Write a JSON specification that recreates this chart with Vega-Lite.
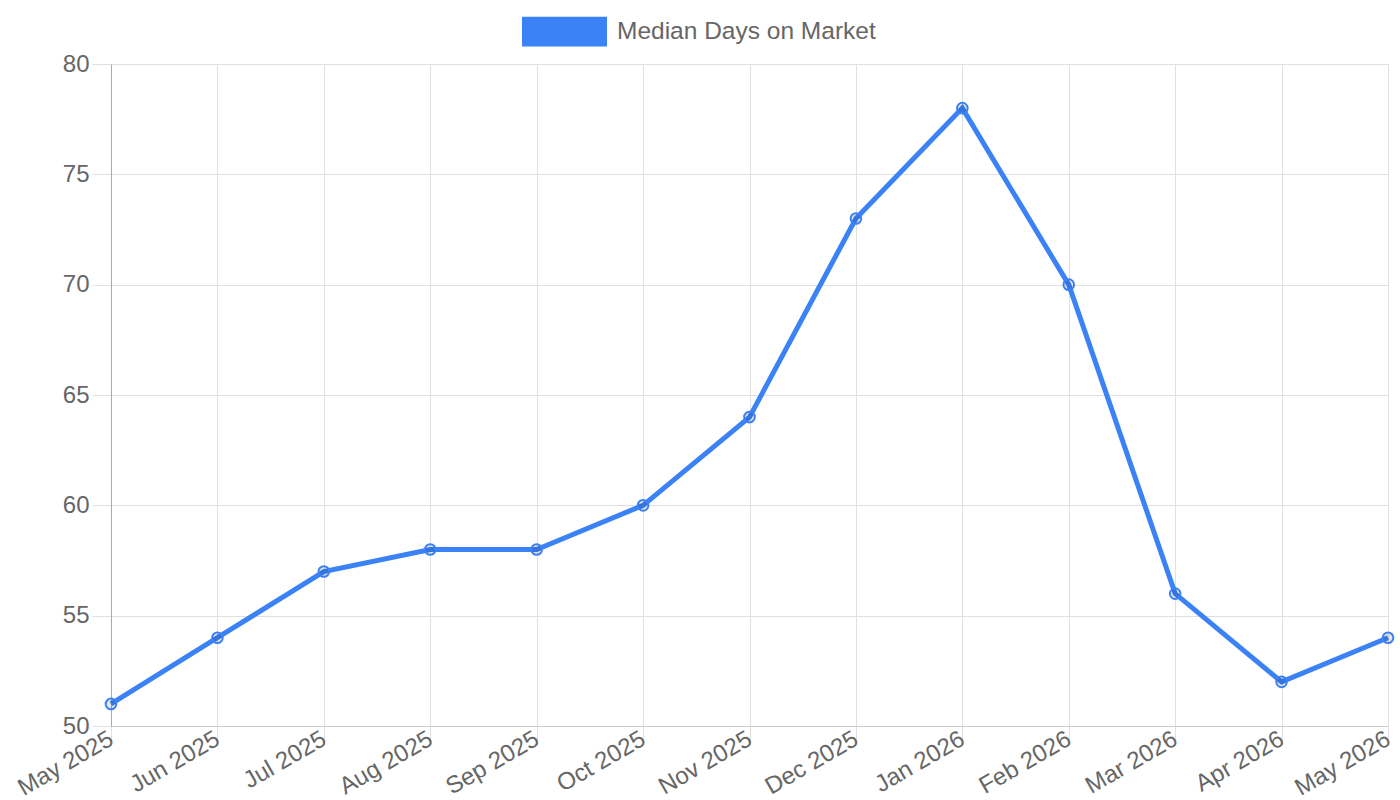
{
  "$schema": "https://vega.github.io/schema/vega-lite/v6.json",
  "width": 1277,
  "height": 662,
  "autosize": "none",
  "padding": {"left": 111, "top": 64, "right": 12, "bottom": 74},
  "background": "white",
  "config": {
    "view": {"stroke": null},
    "font": "Liberation Sans",
    "axis": {"labelFont": "Liberation Sans", "labelColor": "#666666", "labelFontSize": 24, "gridColor": "#e0e0e0", "gridWidth": 1, "ticks": true, "tickColor": "#e0e0e0", "tickSize": 19, "tickWidth": 1}
  },
  "data": {
    "values": [
      {"month": "May 2025", "days": 51, "series": "Median Days on Market"},
      {"month": "Jun 2025", "days": 54, "series": "Median Days on Market"},
      {"month": "Jul 2025", "days": 57, "series": "Median Days on Market"},
      {"month": "Aug 2025", "days": 58, "series": "Median Days on Market"},
      {"month": "Sep 2025", "days": 58, "series": "Median Days on Market"},
      {"month": "Oct 2025", "days": 60, "series": "Median Days on Market"},
      {"month": "Nov 2025", "days": 64, "series": "Median Days on Market"},
      {"month": "Dec 2025", "days": 73, "series": "Median Days on Market"},
      {"month": "Jan 2026", "days": 78, "series": "Median Days on Market"},
      {"month": "Feb 2026", "days": 70, "series": "Median Days on Market"},
      {"month": "Mar 2026", "days": 56, "series": "Median Days on Market"},
      {"month": "Apr 2026", "days": 52, "series": "Median Days on Market"},
      {"month": "May 2026", "days": 54, "series": "Median Days on Market"}
    ]
  },
  "encoding": {
    "x": {
      "field": "month", "type": "ordinal", "sort": null,
      "scale": {"type": "point", "padding": 0},
      "axis": {"title": null, "grid": true, "labelAngle": -30, "labelAlign": "right", "labelBaseline": "middle", "labelPadding": -8, "domainColor": "#cccccc", "labelOverlap": false, "labelBound": false}
    },
    "y": {
      "field": "days", "type": "quantitative",
      "scale": {"domain": [50, 80], "nice": false, "zero": false},
      "axis": {"title": null, "values": [50, 55, 60, 65, 70, 75, 80], "labelPadding": 3, "domainColor": "#aaaaaa"}
    }
  },
  "layer": [
    {
      "mark": {"type": "line", "strokeWidth": 5, "interpolate": "linear"},
      "encoding": {
        "color": {
          "field": "series", "type": "nominal",
          "scale": {"range": ["#3b82f6"]},
          "legend": {
            "title": null, "orient": "none", "legendX": 411, "legendY": -75, "direction": "horizontal",
            "symbolType": "M-1,-0.35H1V0.35H-1Z", "symbolSize": 7225, "symbolFillColor": "#3b82f6", "symbolStrokeWidth": 0,
            "labelFont": "Liberation Sans", "labelFontSize": 24.5, "labelColor": "#666666", "labelOffset": 10, "labelLimit": 500, "padding": 0
          }
        }
      }
    },
    {
      "mark": {"type": "point", "filled": true, "fill": "#000000", "fillOpacity": 0.1, "stroke": "#3b82f6", "strokeWidth": 2, "size": 113, "shape": "circle", "opacity": 1},
      "encoding": {}
    }
  ]
}
